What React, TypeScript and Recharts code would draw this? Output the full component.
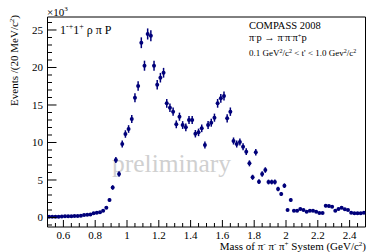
import { ScatterChart, Scatter, XAxis, YAxis, ErrorBar, ReferenceLine } from 'recharts';

// bin centres (GeV/c^2), 20 MeV bins
const mass = [
  0.51, 0.53, 0.55, 0.57, 0.59, 0.61, 0.63, 0.65, 0.67, 0.69,
  0.71, 0.73, 0.75, 0.77, 0.79, 0.81, 0.83, 0.85, 0.87, 0.89,
  0.91, 0.93, 0.95, 0.97, 0.99, 1.01, 1.03, 1.05, 1.07, 1.09,
  1.11, 1.13, 1.15, 1.17, 1.19, 1.21, 1.23, 1.25, 1.27, 1.29,
  1.31, 1.33, 1.35, 1.37, 1.39, 1.41, 1.43, 1.45, 1.47, 1.49,
  1.51, 1.53, 1.55, 1.57, 1.59, 1.61, 1.63, 1.65, 1.67, 1.69,
  1.71, 1.73, 1.75, 1.77, 1.79, 1.81, 1.83, 1.85, 1.87, 1.89,
  1.91, 1.93, 1.95, 1.97, 1.99, 2.01, 2.03, 2.05, 2.07, 2.09,
  2.11, 2.13, 2.15, 2.17, 2.19, 2.21, 2.23, 2.25, 2.27, 2.29,
  2.31, 2.33, 2.35, 2.37, 2.39, 2.41, 2.43, 2.45, 2.47, 2.49,
];

const events = [
  100, 100, 100, 100, 120, 180, 160, 170, 200, 200,
  230, 330, 370, 400, 560, 640, 690, 900, 1300, 2330,
  4000, 7670, 5800, 9800, 11130, 11800, 13130, 15970, 17530, 23300,
  20240, 24470, 24240, 20240, 17700, 18640, 19300, 15220, 14640, 14110,
  12420, 13440, 12330, 12020, 13000, 13000, 11170, 11350, 11890, 9670,
  12330, 12640, 13310, 15220, 15890, 16200, 13220, 14110, 10200, 9800,
  10070, 9440, 8780, 7220, 5360, 8690, 4780, 5800, 6330, 4730,
  4730, 4730, 3800, 3130, 4240, 1000, 2330, 910, 910, 1130,
  1000, 780, 910, 910, 780, 600, 600, 1550, 1520, 1440,
  910, 1130, 1310, 1090, 1000, 640, 560, 560, 560, 640,
];

const errors = [
  50, 50, 50, 50, 50, 60, 60, 60, 70, 70,
  70, 90, 90, 90, 110, 120, 120, 140, 170, 230,
  300, 410, 360, 470, 500, 510, 540, 590, 620, 720,
  670, 740, 730, 670, 630, 640, 650, 580, 570, 560,
  520, 540, 520, 520, 540, 540, 500, 500, 510, 460,
  520, 530, 540, 580, 590, 600, 540, 560, 470, 470,
  470, 460, 440, 400, 340, 440, 320, 360, 370, 320,
  320, 320, 290, 260, 310, 150, 230, 140, 140, 160,
  150, 130, 140, 140, 130, 120, 120, 180, 180, 180,
  140, 160, 170, 160, 150, 120, 110, 110, 110, 120,
];

const xMajorTicks = [0.6, 0.8, 1, 1.2, 1.4, 1.6, 1.8, 2, 2.2, 2.4];
const xTickLabels = ['0.6', '0.8', '1', '1.2', '1.4', '1.6', '1.8', '2', '2.2', '2.4'];
const yMajorTicks = [0, 5000, 10000, 15000, 20000, 25000];
const yTickLabels = ['0', '5', '10', '15', '20', '25'];

const X_DOMAIN = [0.5, 2.5];
const Y_DOMAIN = [-1267, 26733];

// minor ticks every 0.05 GeV and every 1000 events
const xTicks: number[] = [];
for (let i = 0; i <= 40; i++) xTicks.push(Math.round((0.5 + i * 0.05) * 100) / 100);
const yTicks: number[] = [];
for (let v = -1000; v <= 26000; v += 1000) yTicks.push(v);

const data = mass.map((m, i) => ({ x: m, y: events[i], err: errors[i] }));

const BLUE = '#00007a';
const FONT = '"Liberation Serif", "Times New Roman", serif';

const findIdx = (arr: number[], v: number) => arr.findIndex((t) => Math.abs(t - v) < 1e-6);

const XTick = (props: any) => {
  const { x, y, payload } = props;
  const i = findIdx(xMajorTicks, payload.value);
  return (
    <g>
      <line x1={x} x2={x} y1={y} y2={y - (i >= 0 ? 7 : 4)} stroke="#000" />
      {i >= 0 && (
        <text x={x} y={y + 11.5} textAnchor="middle" fontSize={11} fontFamily={FONT} fill="#000">
          {xTickLabels[i]}
        </text>
      )}
    </g>
  );
};

const YTick = (props: any) => {
  const { x, y, payload } = props;
  const i = findIdx(yMajorTicks, payload.value);
  return (
    <g>
      <line x1={x} x2={x + (i >= 0 ? 9 : 4.5)} y1={y} y2={y} stroke="#000" />
      {i >= 0 && (
        <text x={x - 4.5} y={y + 3.8} textAnchor="end" fontSize={11} fontFamily={FONT} fill="#000">
          {yTickLabels[i]}
        </text>
      )}
    </g>
  );
};

function Labels() {
  return (
    <svg width={367} height={252} style={{ position: 'absolute', left: 0, top: 0 }} fontFamily={FONT}>
      <text x={112} y={172} fontSize={25.5} fill="#d0d0d0">preliminary</text>
      <text x={47} y={16} fontSize={11}>
        ×10<tspan dy={-5} fontSize={7}>3</tspan>
      </text>
      <text x={60} y={34} fontSize={12}>
        1<tspan dy={-5} fontSize={8}>-+</tspan>
        <tspan dy={5}>1</tspan>
        <tspan dy={-5} fontSize={8}>+</tspan>
        <tspan dy={5}> ρ π P</tspan>
      </text>
      <text x={249} y={29} fontSize={10.5}>COMPASS 2008</text>
      <text x={249} y={41} fontSize={10.5}>
        π<tspan dy={-3.5} fontSize={6.5}>-</tspan>
        <tspan dy={3.5}>p → π</tspan>
        <tspan dy={-3.5} fontSize={6.5}>-</tspan>
        <tspan dy={3.5}>π</tspan>
        <tspan dy={-3.5} fontSize={6.5}>-</tspan>
        <tspan dy={3.5}>π</tspan>
        <tspan dy={-3.5} fontSize={6.5}>+</tspan>
        <tspan dy={3.5}>p</tspan>
      </text>
      <text x={249} y={56} fontSize={9}>
        0.1 GeV<tspan dy={-3} fontSize={6}>2</tspan>
        <tspan dy={3}>/c</tspan>
        <tspan dy={-3} fontSize={6}>2</tspan>
        <tspan dy={3}> &lt; t' &lt; 1.0 Gev</tspan>
        <tspan dy={-3} fontSize={6}>2</tspan>
        <tspan dy={3}>/c</tspan>
        <tspan dy={-3} fontSize={6}>2</tspan>
      </text>
      <text x={366} y={250} fontSize={11} textAnchor="end">
        Mass of π<tspan dy={-4} fontSize={7}>-</tspan>
        <tspan dy={4}> π</tspan>
        <tspan dy={-4} fontSize={7}>-</tspan>
        <tspan dy={4}> π</tspan>
        <tspan dy={-4} fontSize={7}>+</tspan>
        <tspan dy={4}> System (GeV/c</tspan>
        <tspan dy={-4} fontSize={7}>2</tspan>
        <tspan dy={4}>)</tspan>
      </text>
      <text x={18} y={15} fontSize={11} textAnchor="end" transform="rotate(-90 18 15)">
        Events /(20 MeV/c<tspan dy={-4} fontSize={7}>2</tspan>
        <tspan dy={4}>)</tspan>
      </text>
    </svg>
  );
}

export default function App() {
  return (
    <div style={{ position: 'absolute', left: 0, top: 0, width: 367, height: 252, background: '#fff' }}>
      <Labels />
      <div style={{ position: 'absolute', left: 0, top: 0 }}>
        <ScatterChart width={367} height={252} margin={{ top: 17, right: 1.5, bottom: 0, left: 0 }}>
          <XAxis
            type="number"
            dataKey="x"
            domain={X_DOMAIN}
            allowDataOverflow
            ticks={xTicks}
            interval={0}
            tick={XTick}
            tickLine={false}
            tickSize={0}
            tickMargin={0}
            height={25}
            axisLine={{ stroke: '#000' }}
          />
          <YAxis
            type="number"
            dataKey="y"
            domain={Y_DOMAIN}
            allowDataOverflow
            ticks={yTicks}
            interval={0}
            tick={YTick}
            tickLine={false}
            tickSize={0}
            tickMargin={0}
            width={47.5}
            axisLine={{ stroke: '#000' }}
          />
          <ReferenceLine y={Y_DOMAIN[1]} stroke="#000" />
          <ReferenceLine x={X_DOMAIN[1]} stroke="#000" />
          <Scatter
            data={data}
            isAnimationActive={false}
            shape={(p: any) => <circle cx={p.cx} cy={p.cy} r={2} fill={BLUE} />}
          >
            <ErrorBar dataKey="err" direction="y" width={0} stroke={BLUE} strokeWidth={1.5} />
          </Scatter>
        </ScatterChart>
      </div>
    </div>
  );
}
